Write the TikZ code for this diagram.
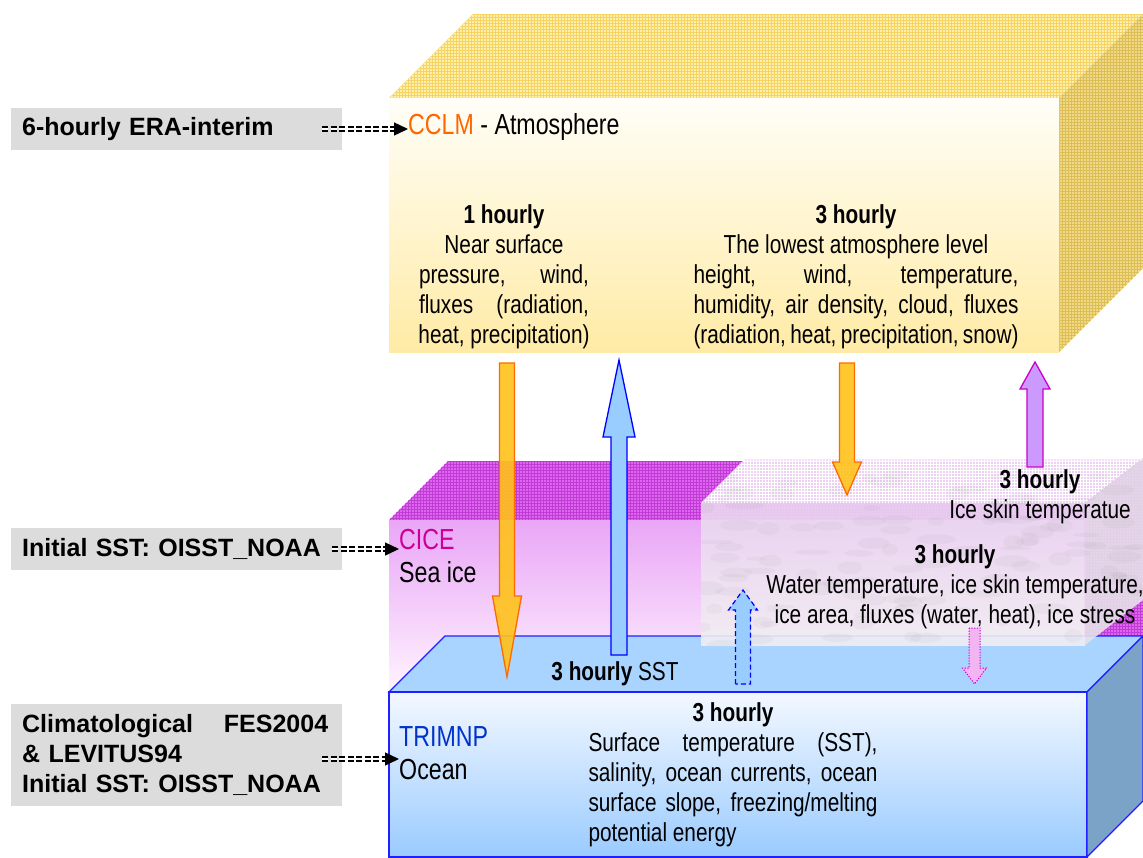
\documentclass[tikz,border=0pt]{standalone}
\usepackage{fontspec}
\setmainfont{Liberation Sans}
\newfontfamily\narrowfont[FakeStretch=0.8]{Liberation Sans}
\usetikzlibrary{arrows.meta,patterns}

\definecolor{srcgray}{HTML}{DCDCDC}
\definecolor{cclmorange}{HTML}{FF6600}
\definecolor{cicemagenta}{HTML}{CC0099}
\definecolor{trimblue}{HTML}{0033CC}
\definecolor{atmtop}{HTML}{FFEFAE}
\definecolor{atmgrid}{HTML}{F5D462}
\definecolor{atmside}{HTML}{EFD888}
\definecolor{atmsidegrid}{HTML}{DDBE55}
\definecolor{atmlight}{HTML}{FFFEF8}
\definecolor{atmdark}{HTML}{FFEBA6}
\definecolor{icetop}{HTML}{DD66EE}
\definecolor{icegrid}{HTML}{C23BD6}
\definecolor{icelight}{HTML}{FFF4FF}
\definecolor{icedark}{HTML}{E9A6F6}
\definecolor{floetop}{HTML}{EFDDF4}
\definecolor{floehigh}{HTML}{EAD6F0}
\definecolor{floelow}{HTML}{F1EEF2}
\definecolor{floeside}{HTML}{E6E2E8}
\definecolor{seatop}{HTML}{A9D4FF}
\definecolor{sealight}{HTML}{F3F8FF}
\definecolor{seadark}{HTML}{9ACBFF}
\definecolor{seaside}{HTML}{7BA3C7}
\definecolor{seaedge}{HTML}{1F1FFF}
\definecolor{arrorange}{HTML}{FFC21A}
\definecolor{arredge}{HTML}{FF6A00}
\definecolor{arrblue}{HTML}{99CCFF}
\definecolor{arrblueedge}{HTML}{0000FF}
\definecolor{arrpurple}{HTML}{CC99FF}
\definecolor{arrpurpleedge}{HTML}{CC00CC}
\definecolor{arrpink}{HTML}{F2B5F2}

% block arrow: style, x, tail y, head base y, tip y, shaft half width, head half width
\newcommand\blockarrow[7]{%
  \filldraw[#1] (#2-#6,#3) -- (#2-#6,#4) -- (#2-#7,#4) -- (#2,#5)
    -- (#2+#7,#4) -- (#2+#6,#4) -- (#2+#6,#3) -- cycle;}

\tikzset{
  srcbox/.style={fill=srcgray, anchor=west, align=left, text width=309pt,
    inner xsep=11pt, inner ysep=0pt, minimum height=42pt,
    font=\fontsize{25}{30}\selectfont\bfseries},
  feedline/.style={double, double distance=1.8pt, line width=1.7pt, dash pattern=on 6pt off 2.5pt},
  feedtip/.style={-{Triangle[length=14pt,width=13pt]}, line width=1.4pt},
  headtext/.style={inner sep=0pt, anchor=west, align=left, font=\narrowfont\fontsize{29}{33}\selectfont},
  bodytext/.style={inner sep=0pt, align=center, font=\narrowfont\fontsize{26}{30}\selectfont},
  atmtopface/.style={fill=atmtop, postaction={pattern=grid, pattern color=atmgrid}},
  atmsideface/.style={fill=atmside, postaction={pattern=grid, pattern color=atmsidegrid}},
  icetopface/.style={fill=icetop, postaction={pattern=grid, pattern color=icegrid}},
  floetopface/.style={fill=floetop, postaction={pattern=grid, pattern color=white}},
  seaface/.style={draw=seaedge, line width=1.1pt},
  orangearr/.style={fill=arrorange, draw=arredge, line width=1.3pt, fill opacity=0.9},
  bluearr/.style={fill=arrblue, draw=arrblueedge, line width=1.3pt},
  purplearr/.style={fill=arrpurple, draw=arrpurpleedge, line width=1.3pt},
  bluedasharr/.style={fill=arrblue, draw=arrblueedge, line width=1.2pt, dash pattern=on 5pt off 3pt},
  pinkdotarr/.style={fill=arrpink, draw=arrpurpleedge, line width=1pt, dash pattern=on 1.2pt off 1.5pt},
}

\begin{document}
\begin{tikzpicture}[x=1pt,y=-1pt]
  \useasboundingbox (0,0) rectangle (1143,857);
  \fill[white] (0,0) rectangle (1143,857);

  % atmosphere block
  \fill[atmtopface] (389,98) -- (473,14) -- (1143,14) -- (1059,98) -- cycle;
  \fill[atmsideface] (1059,98) -- (1143,14) -- (1143,268) -- (1059,352) -- cycle;
  \shade[top color=atmlight, bottom color=atmdark] (389,98) rectangle (1059,352);

  % sea ice block
  \fill[icetopface] (389,520) -- (448,461) -- (1143,461) -- (1084,520) -- cycle;
  \fill[icetopface] (1084,520) -- (1143,461) -- (1143,636) -- (1084,692) -- cycle;
  \shade[top color=icedark, bottom color=icelight] (389,520) rectangle (1084,692);

  % ocean block
  \filldraw[seaface, fill=seatop] (389,692) -- (445,636) -- (1143,636) -- (1087,692) -- cycle;
  \shadedraw[seaface, top color=sealight, bottom color=seadark] (389,692) rectangle (1087,857);
  \filldraw[seaface, fill=seaside] (1087,692) -- (1143,636) -- (1143,801) -- (1087,857) -- cycle;

  % ice floe on top of the sea ice
  \fill[floetopface, fill opacity=0.9] (701,503) -- (746,458) -- (1143,458) -- (1085,503) -- cycle;
  \shade[top color=floehigh, bottom color=floelow, fill opacity=0.9] (701,503) rectangle (1085,645);
  \fill[floeside, fill opacity=0.9] (1085,503) -- (1143,458) -- (1143,600) -- (1085,645) -- cycle;
  \begin{scope}
    \clip (701,458) rectangle (1143,645);
    \pgfmathsetseed{5}
    \foreach \k in {1,...,110}
      \fill[gray, opacity=0.06] ({701+440*rnd},{470+175*rnd}) ellipse [x radius={6+14*rnd}, y radius={2+5*rnd}];
  \end{scope}

  % exchange arrows
  \blockarrow{orangearr}{507}{363}{596}{677}{7.5}{14.5}
  \blockarrow{bluearr}{619}{655}{437}{360}{8}{16}
  \blockarrow{orangearr}{847}{363}{462}{495}{7.5}{14.5}
  \blockarrow{purplearr}{1035}{467}{389}{362}{8}{15}
  \blockarrow{bluedasharr}{743}{684}{610}{590}{7.5}{14.5}
  \blockarrow{pinkdotarr}{974.5}{628}{668}{684}{5.5}{12}

  % model names
  \node[headtext] (cclm) at (408,127) {\textcolor{cclmorange}{CCLM} - Atmosphere};
  \node[headtext] (cice) at (399,556) {\textcolor{cicemagenta}{CICE}\\Sea ice};
  \node[headtext] (trim) at (399,753) {\textcolor{trimblue}{TRIMNP}\\Ocean};

  % exchanged fields
  \node[bodytext] (atmfast) at (504,277) {{\bfseries 1 hourly}\\ Near surface\\
    \makebox[170pt][s]{pressure, wind,}\\ \makebox[170pt][s]{fluxes (radiation,}\\
    heat, precipitation)};
  \node[bodytext] (atmslow) at (856,277) {{\bfseries 3 hourly}\\ The lowest atmosphere level\\
    \makebox[325pt][s]{height, wind, temperature,}\\
    \makebox[325pt][s]{humidity, air density, cloud, fluxes}\\
    \makebox[325pt][s]{(radiation, heat, precipitation, snow)}};
  \node[bodytext] (iceskin) at (1040,497) {{\bfseries 3 hourly}\\ Ice skin temperatue};
  \node[bodytext] (icefields) at (955,587) {{\bfseries 3 hourly}\\
    Water temperature, ice skin temperature,\\ ice area, fluxes (water, heat), ice stress};
  \node[bodytext] (sst) at (615,674) {{\bfseries 3 hourly} SST};
  \node[bodytext] (oceanfields) at (733,775) {{\bfseries 3 hourly}\\
    \makebox[289pt][s]{Surface temperature (SST),}\\
    \makebox[289pt][s]{salinity, ocean currents, ocean}\\
    \makebox[289pt][s]{surface slope, freezing/melting}\\
    \makebox[289pt][l]{potential energy}};

  % forcing data
  \node[srcbox] (era) at (11,129) {6-hourly ERA-interim};
  \node[srcbox] (icesrc) at (11,549) {Initial SST: OISST\_NOAA};
  \node[srcbox, minimum height=102pt] (clim) at (11,755)
    {\makebox[306pt]{Climatological\hfill FES2004}\\ \& LEVITUS94\\ Initial SST: OISST\_NOAA};

  \coordinate (cclm-in) at (era.east -| cclm.west);
  \coordinate (cice-in) at (icesrc.east -| cice.west);
  \coordinate (trim-in) at ([yshift=-4pt]clim.east -| trim.west);
  \draw[feedline] ([xshift=-20pt]era.east) -- ([xshift=-12pt]cclm-in);
  \draw[feedtip] ([xshift=-14pt]cclm-in) -- (cclm-in);
  \draw[feedline] ([xshift=-10pt]icesrc.east) -- ([xshift=-12pt]cice-in);
  \draw[feedtip] ([xshift=-14pt]cice-in) -- (cice-in);
  \draw[feedline] ([xshift=-20pt]trim-in -| clim.east) -- ([xshift=-12pt]trim-in);
  \draw[feedtip] ([xshift=-14pt]trim-in) -- (trim-in);
\end{tikzpicture}
\end{document}
